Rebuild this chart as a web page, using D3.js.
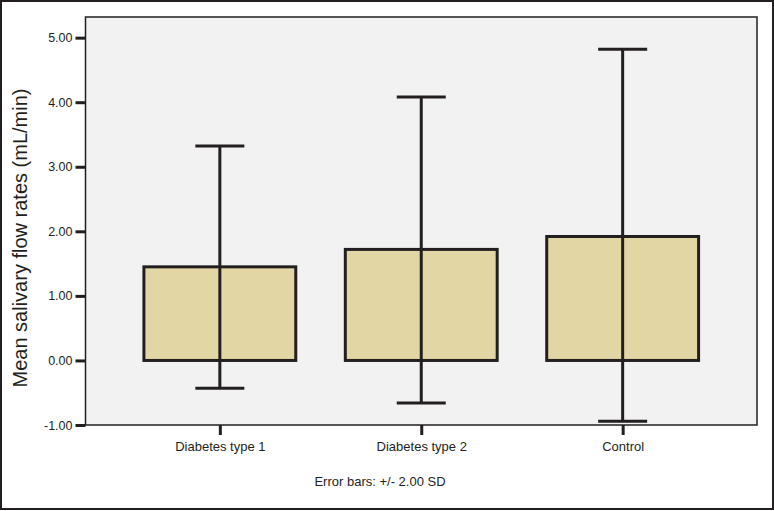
<!DOCTYPE html>
<html>
<head>
<meta charset="utf-8">
<script src="https://cdn.jsdelivr.net/npm/d3@7"></script>
<style>
  body { margin: 0; background: #fff; }
  text { font-family: "Liberation Sans", Arial, sans-serif; fill: #231f20; }
</style>
</head>
<body>
<div id="chart"></div>
<script>
const width = 774;
const height = 511;
const margin = { top: 17, right: 17, bottom: 86, left: 85.5 };

const groups = ["Diabetes type 1", "Diabetes type 2", "Control"];
const means = [1.45, 1.72, 1.92];
const upper = [3.32, 4.08, 4.82];
const lower = [-0.43, -0.66, -0.94];
const yTicks = [-1, 0, 1, 2, 3, 4, 5];

const data = groups.map((g, i) => ({ group: g, mean: means[i], hi: upper[i], lo: lower[i] }));

const svg = d3.select("#chart")
  .append("svg")
  .attr("width", width)
  .attr("height", height);

// outer frame
svg.append("rect")
  .attr("x", 1).attr("y", 1)
  .attr("width", width - 2).attr("height", height - 3)
  .attr("fill", "#fff")
  .attr("stroke", "#231f20")
  .attr("stroke-width", 2);

const x = d3.scalePoint()
  .domain(groups)
  .range([margin.left, width - margin.right])
  .padding(0.667);

const y = d3.scaleLinear()
  .domain([-1, 5.32])
  .range([height - margin.bottom, margin.top]);

const barW = x.step() * 0.754;
const capW = 49;

// plot background
svg.append("rect")
  .attr("x", margin.left)
  .attr("y", margin.top)
  .attr("width", width - margin.right - margin.left)
  .attr("height", height - margin.bottom - margin.top)
  .attr("fill", "#f2f2f2")
  .attr("stroke", "#231f20")
  .attr("stroke-width", 1.5);

// y axis
const yAxis = svg.append("g")
  .attr("transform", `translate(${margin.left},0)`)
  .call(d3.axisLeft(y).tickValues(yTicks).tickFormat(d => d.toFixed(2)).tickSize(10).tickPadding(3));
yAxis.select(".domain").remove();
yAxis.selectAll(".tick line").attr("stroke", "#231f20").attr("stroke-width", 3);
yAxis.selectAll(".tick text").attr("font-size", 12.5).attr("fill", "#231f20")
  .style("font-family", "'Liberation Sans', Arial, sans-serif");

// x axis
const xAxis = svg.append("g")
  .attr("transform", `translate(0,${height - margin.bottom})`)
  .call(d3.axisBottom(x).tickSize(10).tickPadding(7));
xAxis.select(".domain").remove();
xAxis.selectAll(".tick line").attr("stroke", "#231f20").attr("stroke-width", 3);
xAxis.selectAll(".tick text").attr("font-size", 13).attr("fill", "#231f20")
  .style("font-family", "'Liberation Sans', Arial, sans-serif");

// bars
svg.selectAll("rect.bar")
  .data(data)
  .enter()
  .append("rect")
  .attr("class", "bar")
  .attr("x", d => x(d.group) - barW / 2)
  .attr("y", d => y(d.mean))
  .attr("width", barW)
  .attr("height", d => y(0) - y(d.mean))
  .attr("fill", "#e2d7a4")
  .attr("stroke", "#231f20")
  .attr("stroke-width", 3);

// error bars
const err = svg.selectAll("g.err")
  .data(data)
  .enter()
  .append("g")
  .attr("class", "err")
  .attr("stroke", "#231f20")
  .attr("stroke-width", 3);

err.append("line")
  .attr("x1", d => x(d.group)).attr("x2", d => x(d.group))
  .attr("y1", d => y(d.lo)).attr("y2", d => y(d.hi));
err.append("line")
  .attr("x1", d => x(d.group) - capW / 2).attr("x2", d => x(d.group) + capW / 2)
  .attr("y1", d => y(d.hi)).attr("y2", d => y(d.hi));
err.append("line")
  .attr("x1", d => x(d.group) - capW / 2).attr("x2", d => x(d.group) + capW / 2)
  .attr("y1", d => y(d.lo)).attr("y2", d => y(d.lo));

// y title
svg.append("text")
  .attr("transform", "rotate(-90)")
  .attr("x", -238)
  .attr("y", 27)
  .attr("text-anchor", "middle")
  .attr("font-size", 20)
  .text("Mean salivary flow rates (mL/min)");

// footnote
svg.append("text")
  .attr("x", 380)
  .attr("y", 486)
  .attr("text-anchor", "middle")
  .attr("font-size", 13)
  .text("Error bars: +/- 2.00 SD");
</script>
</body>
</html>
